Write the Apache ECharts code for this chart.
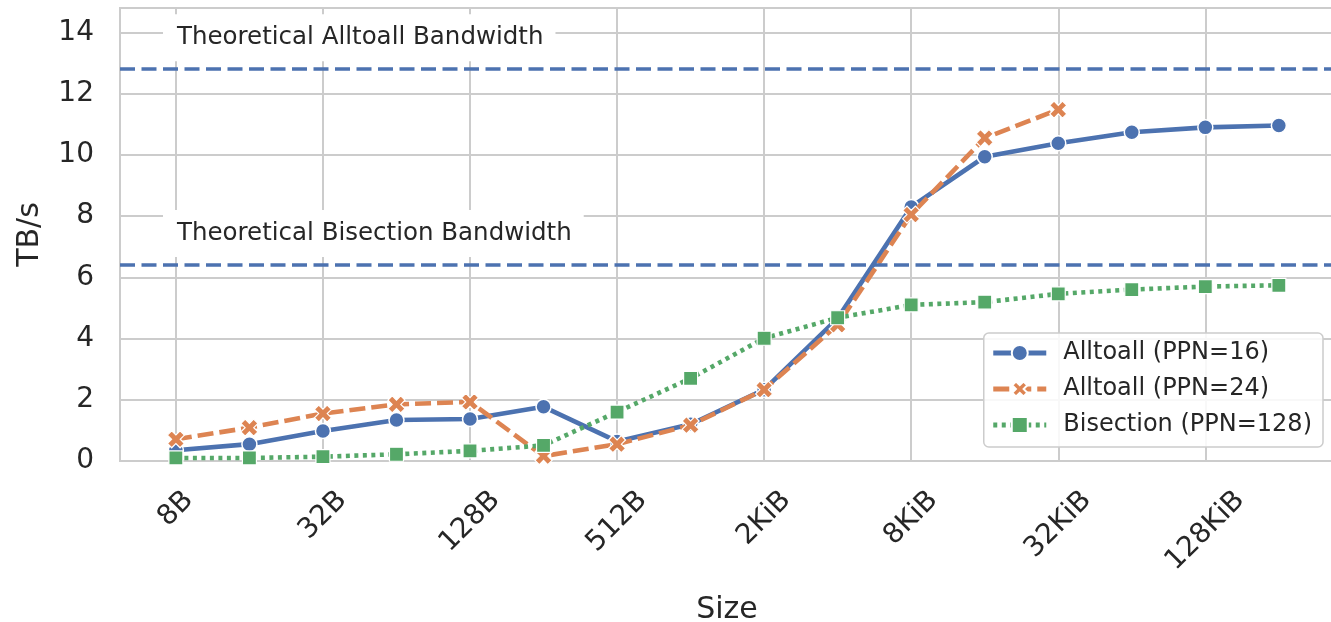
<!DOCTYPE html>
<html>
<head>
<meta charset="utf-8">
<script src="https://cdn.jsdelivr.net/npm/echarts@6/dist/echarts.min.js"></script>
<style>
  html, body { margin: 0; padding: 0; background: #ffffff; }
  #chart { width: 1331px; height: 622px; }
</style>
</head>
<body>
<div id="chart"></div>
<script>
// Message sizes on the x axis (one entry per measured point)
const sizes = ['8B', '16B', '32B', '64B', '128B', '256B', '512B', '1KiB',
               '2KiB', '4KiB', '8KiB', '16KiB', '32KiB', '64KiB', '128KiB', '256KiB'];
// Positions of the sizes that carry a tick label
const labelledIdx = [0, 2, 4, 6, 8, 10, 12, 14];

// Measured bandwidth, TB/s
const alltoall16 = [0.35, 0.55, 0.98, 1.34, 1.37, 1.77, 0.64, 1.20,
                    2.33, 4.66, 8.30, 9.94, 10.38, 10.74, 10.90, 10.96];
const alltoall24 = [0.71, 1.09, 1.55, 1.85, 1.93, 0.16, 0.55, 1.17,
                    2.33, 4.45, 8.05, 10.55, 11.48];
const bisection128 = [0.10, 0.10, 0.14, 0.22, 0.33, 0.51, 1.60, 2.70,
                      4.01, 4.68, 5.10, 5.19, 5.46, 5.60, 5.70, 5.74];

// Theoretical limits, TB/s
const theoreticalAlltoall = 12.8;
const theoreticalBisection = 6.4;

const yTicks = { min: 0, max: 14.8, interval: 2 };

const C_BLUE = '#4C72B0', C_ORANGE = '#DD8452', C_GREEN = '#55A868';
const TEXT = '#262626', GRID = '#cccccc';
const FONT = 'DejaVu Sans';
const TICK_FS = 28;

const toPoints = arr => arr.map((v, i) => [i, v]);

// Rotated tick labels: centre each label on its tick, pushing longer labels
// further down so that all of them start at the same height under the axis.
const measureCtx = document.createElement('canvas').getContext('2d');
measureCtx.font = TICK_FS + 'px "' + FONT + '"';
const widths = labelledIdx.map(i => measureCtx.measureText(sizes[i]).width);
const minW = Math.min(...widths);
const richLabels = {};
labelledIdx.forEach((i, k) => {
  const p = 0.5 * (widths[k] - minW);
  richLabels['l' + i] = {
    fontSize: TICK_FS, fontFamily: FONT, color: TEXT,
    padding: [p, p, 0, 0]
  };
});

// Bold "X" marker: a plus sign turned by 45 degrees
const X = 'path://M3.3,0H6.7V3.3H10V6.7H6.7V10H3.3V6.7H0V3.3H3.3Z';

const chart = echarts.init(document.getElementById('chart'), null, { renderer: 'canvas' });

chart.setOption({
  animation: false,
  backgroundColor: '#ffffff',
  textStyle: { fontFamily: FONT, color: TEXT },
  grid: {
    left: 120, right: -3, top: 8, bottom: 161,
    show: true, borderColor: GRID, borderWidth: 2,
    containLabel: false,
    outerBoundsMode: 'none'
  },
  xAxis: {
    type: 'value',
    min: -0.76, max: 15.75,
    name: 'Size',
    nameLocation: 'middle',
    nameGap: 134,
    nameTextStyle: { fontSize: 30, color: TEXT, fontFamily: FONT },
    axisLine: { show: false },
    axisTick: { show: false, customValues: labelledIdx },
    splitLine: { show: true, lineStyle: { color: GRID, width: 2 } },
    axisLabel: {
      customValues: labelledIdx,
      rotate: 45,
      align: 'center',
      verticalAlign: 'middle',
      margin: 35 + 0.354 * minW,
      fontSize: TICK_FS, fontFamily: FONT, color: TEXT,
      formatter: v => '{l' + v + '|' + sizes[v] + '}',
      rich: richLabels
    }
  },
  yAxis: {
    type: 'value',
    min: yTicks.min, max: yTicks.max, interval: yTicks.interval,
    name: 'TB/s',
    nameLocation: 'middle',
    nameRotate: 90,
    nameGap: 75,
    nameTextStyle: { fontSize: 30, color: TEXT, fontFamily: FONT },
    axisLine: { show: false },
    axisTick: { show: false },
    splitLine: { show: true, lineStyle: { color: GRID, width: 2 } },
    axisLabel: {
      fontSize: TICK_FS, fontFamily: FONT, color: TEXT, margin: 26,
      showMaxLabel: false
    }
  },
  legend: {
    orient: 'vertical',
    right: 8, top: 333,
    itemWidth: 53, itemHeight: 20,
    itemGap: 8,
    padding: [6, 11, 8, 7],
    backgroundColor: 'rgba(255,255,255,0.85)',
    borderColor: '#cccccc', borderWidth: 1.5, borderRadius: 5,
    lineStyle: { width: 5 },
    textStyle: { fontSize: 24, color: TEXT, fontFamily: FONT, lineHeight: 28,
                 padding: [0, 0, 0, 12] },
    data: ['Alltoall (PPN=16)', 'Alltoall (PPN=24)', 'Bisection (PPN=128)']
  },
  series: [
    {
      name: 'Alltoall (PPN=16)',
      type: 'line',
      data: toPoints(alltoall16),
      symbol: 'circle', symbolSize: 15,
      lineStyle: { color: C_BLUE, width: 4.6 },
      itemStyle: { color: C_BLUE, borderColor: '#ffffff', borderWidth: 1.5 },
      z: 3,
      markLine: {
        silent: true,
        symbol: ['none', 'none'],
        lineStyle: { color: C_BLUE, width: 3.6, type: [15, 6.5] },
        label: {
          show: true,
          position: 'insideStartTop',
          distance: [43, 8],
          fontSize: 24.5, fontFamily: FONT, color: TEXT,
          backgroundColor: '#ffffff',
          padding: [11, 12, 11, 14]
        },
        data: [
          { yAxis: theoreticalAlltoall, label: { formatter: 'Theoretical Alltoall Bandwidth' } },
          { yAxis: theoreticalBisection, label: { formatter: 'Theoretical Bisection Bandwidth' } }
        ]
      }
    },
    {
      name: 'Alltoall (PPN=24)',
      type: 'line',
      data: toPoints(alltoall24),
      symbol: X, symbolSize: 18, symbolRotate: 45,
      lineStyle: { color: C_ORANGE, width: 4.6, type: [16, 6] },
      itemStyle: { color: C_ORANGE, borderColor: '#ffffff', borderWidth: 1.2 },
      z: 4
    },
    {
      name: 'Bisection (PPN=128)',
      type: 'line',
      data: toPoints(bisection128),
      symbol: 'rect', symbolSize: 14,
      lineStyle: { color: C_GREEN, width: 4.6, type: [4, 4.5] },
      itemStyle: { color: C_GREEN, borderColor: '#ffffff', borderWidth: 1.2 },
      z: 5
    }
  ]
});
</script>
</body>
</html>
